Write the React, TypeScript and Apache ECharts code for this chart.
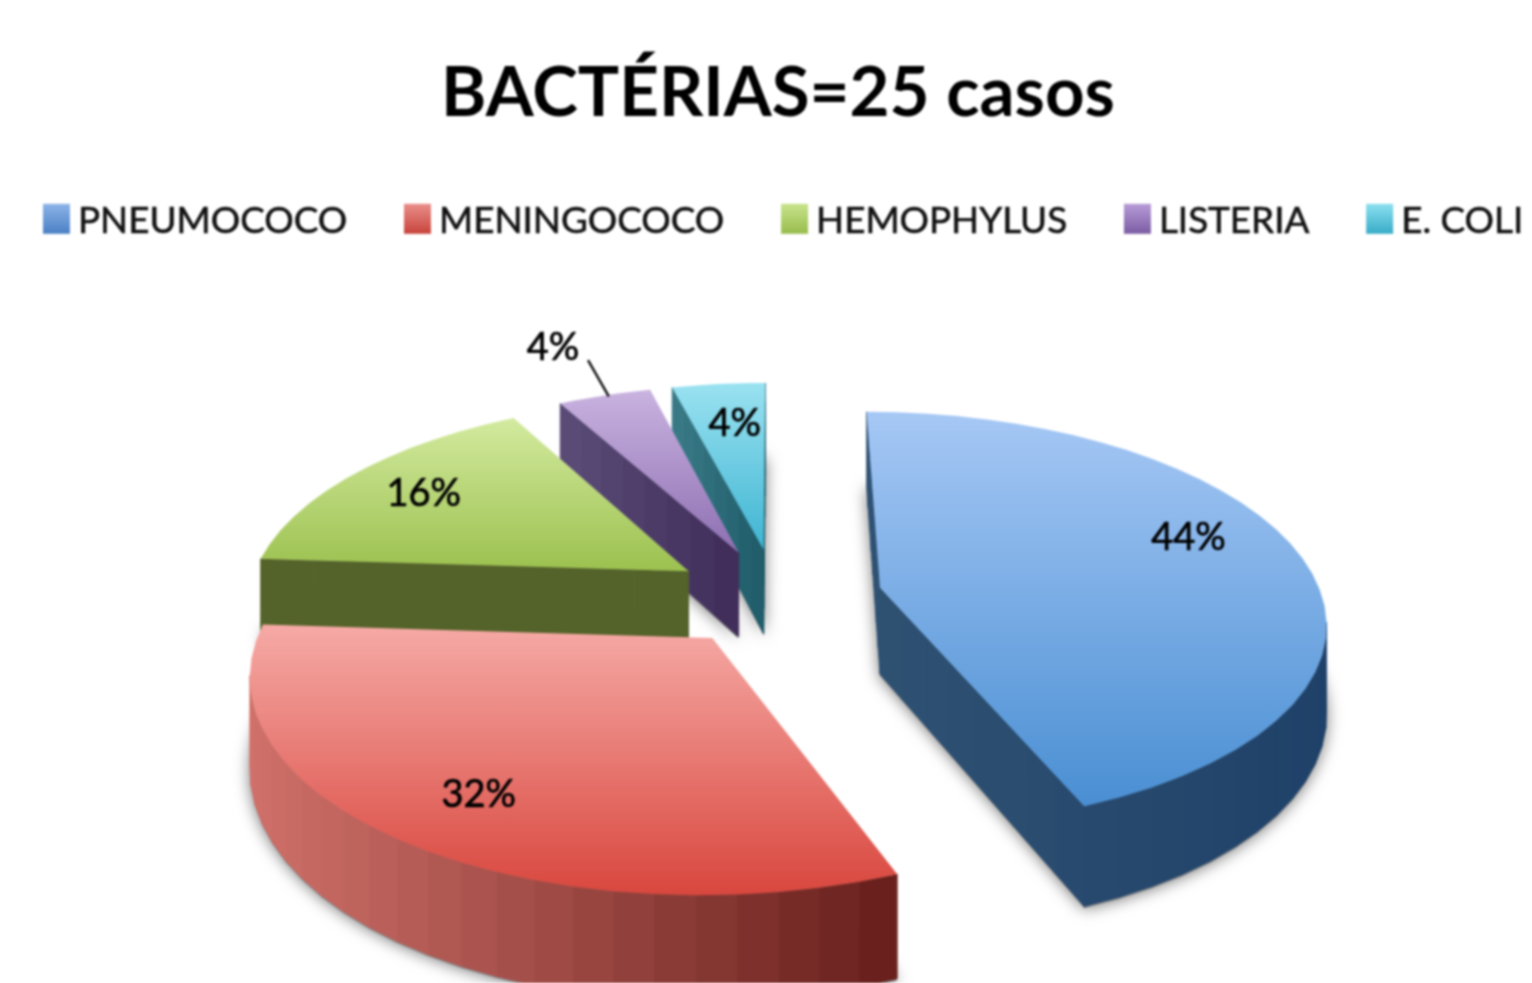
import React, { useEffect, useRef } from "react";
import * as echarts from "echarts";

const categories = ["PNEUMOCOCO", "MENINGOCOCO", "HEMOPHYLUS", "LISTERIA", "E. COLI"];
const values = [44, 32, 16, 4, 4];
const titleText = "BACTÉRIAS=25 casos";

const topColors = [
  ["#a6c8f5", "#4a8fd3"],
  ["#f6aaa6", "#d9473e"],
  ["#d3ea9f", "#9cc14f"],
  ["#c9b3e0", "#8e6fb2"],
  ["#9ae2f1", "#3fb5d2"],
];
const wallColors = [
  ["#2f5273", "#1f4169"],
  ["#d0706a", "#671f1b"],
  ["#54632a", "#54632a"],
  ["#5b4c78", "#3f2c58"],
  ["#3b7b88", "#1e5a68"],
];
const legendColors = [
  ["#8db4e8", "#4a80c4"],
  ["#ea8e8a", "#c8443c"],
  ["#c8e48c", "#98bc4c"],
  ["#b89cd8", "#7c5ca4"],
  ["#8ce0f0", "#38acc8"],
];
// label placement relative to each slice's apex: angle in degrees, radius as a pie fraction
const labelPolar = [
  [69.7, 0.79],
  [215.1, 0.78],
  [303, 0.79],
  [337.5, 1.39],
  [354, 0.75],
];
const leaderPolar = [[338.9, 0.99], [340, 1.25]];

// projection of the tilted pie
const CX = 776.5, CY = 597, AX = 442, AY = 205, PERSP = 0.15, EXPLODE = 0.24, DEPTH = 87;
const total = values.reduce((a, b) => a + b, 0);

function project(X: number, Y: number, down = 0) {
  const s = 1 / (1 - PERSP * Y);
  return [CX + AX * X * s, CY + AY * Y * s + down * s];
}
function hexMix(a: string, b: string, t: number) {
  const p = (h: string) => [1, 3, 5].map((i) => parseInt(h.slice(i, i + 2), 16));
  const A = p(a), B = p(b);
  return "rgb(" + A.map((v, i) => Math.round(v + (B[i] - v) * t)).join(",") + ")";
}
function vGrad(c: string[]) {
  return new echarts.graphic.LinearGradient(0, 0, 0, 1, [
    { offset: 0, color: c[0] },
    { offset: 1, color: c[1] },
  ]);
}

function sliceItem(index: number, value: number) {
  const startFrac = values.slice(0, index).reduce((a, b) => a + b, 0) / total;
  const start = startFrac * 2 * Math.PI;
  const sweep = (value / total) * 2 * Math.PI;
  const mid = start + sweep / 2;
  const ox = Math.sin(mid) * EXPLODE;
  const oy = -Math.cos(mid) * EXPLODE;
  const pt = (ang: number, r: number): [number, number] => [
    ox + Math.sin(ang) * r,
    oy - Math.cos(ang) * r,
  ];
  const N = Math.max(6, Math.round((value / total) * 80));
  const outline: [number, number][] = [[ox, oy]];
  for (let k = 0; k <= N; k++) outline.push(pt(start + (sweep * k) / N, 1));
  const topPts = outline.map((w) => project(w[0], w[1]));
  const botPts = outline.map((w) => project(w[0], w[1], DEPTH));
  const xs = topPts.map((p) => p[0]);
  const minX = Math.min(...xs), maxX = Math.max(...xs);
  const wc = wallColors[index];
  const children: any[] = [];

  children.push({
    type: "polygon",
    shape: { points: botPts.map((p) => [p[0], p[1] + 2]) },
    style: { fill: "#8a8a8a", shadowBlur: 16, shadowColor: "rgba(0,0,0,0.55)" },
  });

  const addWall = (a: [number, number], b: [number, number], steps: number) => {
    for (let j = 0; j < steps; j++) {
      const t0 = j / steps, t1 = (j + 1) / steps;
      const wa: [number, number] = [a[0] + (b[0] - a[0]) * t0, a[1] + (b[1] - a[1]) * t0];
      const wb: [number, number] = [a[0] + (b[0] - a[0]) * t1, a[1] + (b[1] - a[1]) * t1];
      const pa = project(wa[0], wa[1]), pb = project(wb[0], wb[1]);
      if (pb[0] >= pa[0]) continue;
      const qa = project(wa[0], wa[1], DEPTH), qb = project(wb[0], wb[1], DEPTH);
      const t = maxX > minX ? ((pa[0] + pb[0]) / 2 - minX) / (maxX - minX) : 0;
      const col = hexMix(wc[0], wc[1], t);
      children.push({
        type: "polygon",
        shape: { points: [pa, pb, qb, qa] },
        style: { fill: col, stroke: col, lineWidth: 0.8 },
      });
    }
  };
  addWall(outline[0], outline[1], 8);
  for (let k = 1; k < outline.length - 1; k++) addWall(outline[k], outline[k + 1], 1);
  addWall(outline[outline.length - 1], outline[0], 8);

  children.push({
    type: "polygon",
    shape: { points: topPts },
    style: { fill: vGrad(topColors[index]) },
  });

  const lp = labelPolar[index];
  const lw = pt((lp[0] * Math.PI) / 180, lp[1]);
  const lpos = project(lw[0], lw[1]);
  if (index === 3) {
    const a = pt((leaderPolar[0][0] * Math.PI) / 180, leaderPolar[0][1]);
    const b = pt((leaderPolar[1][0] * Math.PI) / 180, leaderPolar[1][1]);
    const pa = project(a[0], a[1]), pb = project(b[0], b[1]);
    children.push({
      type: "line",
      shape: { x1: pa[0], y1: pa[1], x2: pb[0], y2: pb[1] },
      style: { stroke: "#111", lineWidth: 2.4 },
    });
  }
  children.push({
    type: "text",
    style: {
      text: Math.round((value / total) * 100) + "%",
      x: lpos[0],
      y: lpos[1],
      align: "center",
      verticalAlign: "middle",
      fill: "#000",
      stroke: "#000",
      lineWidth: 0.7,
      font: "38px Lato",
    },
  });
  return { type: "group", children };
}

export default function App() {
  const ref = useRef<HTMLDivElement>(null);
  useEffect(() => {
    if (!ref.current) return;
    const chart = echarts.init(ref.current, undefined, { renderer: "svg" });
    chart.setOption({
      animation: false,
      backgroundColor: "#ffffff",
      title: {
        text: titleText,
        left: 773,
        top: 50,
        textAlign: "center",
        textStyle: { fontFamily: "Lato", fontWeight: "bold", fontSize: 69, color: "#000" },
      },
      legend: {
        left: 43,
        top: 200,
        width: 2000,
        padding: 0,
        data: categories,
        icon: "rect",
        itemWidth: 27,
        itemHeight: 30,
        itemGap: 56.5,
        selectedMode: false,
        textStyle: {
          fontFamily: "Lato",
          fontSize: 36.8,
          color: "#111",
          textBorderColor: "#111",
          textBorderWidth: 0.6,
          padding: [7, 0, 0, 3],
        },
      },
      series: categories.map((name, i) => ({
        type: "custom",
        name,
        coordinateSystem: "none",
        silent: true,
        z: 5 - i,
        itemStyle: { color: vGrad(legendColors[i]) },
        data: [[values[i]]],
        renderItem: (_p: any, api: any) => sliceItem(i, api.value(0)),
      })),
    });
    return () => chart.dispose();
  }, []);
  return (
    <div
      ref={ref}
      style={{ position: "fixed", left: 0, top: 0, width: 1532, height: 983, filter: "blur(0.9px)" }}
    />
  );
}
